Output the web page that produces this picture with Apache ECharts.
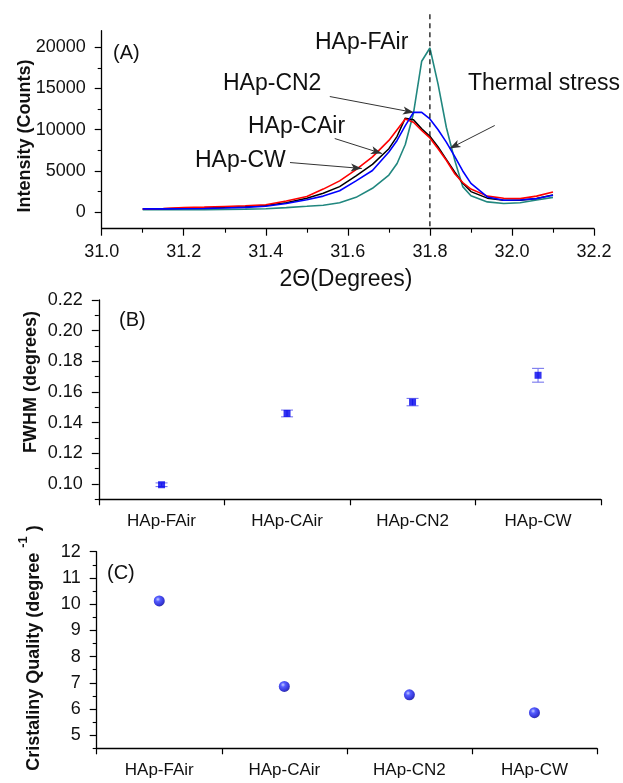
<!DOCTYPE html>
<html><head><meta charset="utf-8">
<script src="https://cdn.jsdelivr.net/npm/echarts@6/dist/echarts.min.js"></script>
<style>html,body{margin:0;padding:0;background:#fff}#c{width:623px;height:783px}</style>
</head><body><div id="c"></div>
<script>
// ---------- Panel A : XRD peak ----------
const twoTheta = [31.10,31.15,31.20,31.25,31.30,31.35,31.40,31.45,31.50,31.54,31.58,31.62,31.66,31.70,31.72,31.74,31.76,31.78,31.80,31.82,31.84,31.86,31.88,31.90,31.94,31.98,32.02,32.06,32.10];
const intensityFAir = [300,300,300,310,330,370,420,560,720,850,1150,1800,2900,4500,5900,8200,12000,18300,19900,15500,10300,6400,3100,2000,1250,1050,1150,1480,1800];
const intensityCW   = [400,450,550,620,700,780,900,1350,1900,2800,3800,5150,6700,8700,10000,11300,10900,9900,9000,7700,6300,4700,3600,2800,1950,1700,1650,1950,2450];
const intensityCAir = [400,420,470,520,580,650,800,1150,1700,2300,3100,4400,5800,7700,9200,11400,11200,10100,9200,7900,6400,4900,3500,2500,1700,1450,1450,1650,2100];
const intensityCN2  = [400,400,420,450,500,580,720,1050,1500,1950,2600,3800,5050,7300,8700,10500,12100,12100,11300,10000,8500,6800,5000,3500,1850,1450,1480,1650,2050];
const thetaTicks = [31.0,31.2,31.4,31.6,31.8,32.0,32.2];
const intensityTicks = [0,5000,10000,15000,20000];
const intensityMinorTicks = [2500,7500,12500,17500];

// ---------- Panels B and C ----------
const samples = ['HAp-FAir','HAp-CAir','HAp-CN2','HAp-CW'];
const fwhm    = [0.0995,0.146,0.1534,0.1709];
const fwhmErr = [0.0012,0.0022,0.0024,0.0045];
const fwhmTicks = [0.10,0.12,0.14,0.16,0.18,0.20,0.22];
const fwhmMinorTicks = [0.09,0.11,0.13,0.15,0.17,0.19,0.21];
const quality = [10.12,6.86,6.54,5.86];
const qualityTicks = [5,6,7,8,9,10,11,12];
const qualityMinorTicks = [4.5,5.5,6.5,7.5,8.5,9.5,10.5,11.5];

const FONT = 'Liberation Sans, Arial, sans-serif';
const chart = echarts.init(document.getElementById('c'), null, {renderer:'canvas'});

function pairs(ys){ return twoTheta.map((x,i)=>[x, ys[i]]); }
const axLine = {show:true, onZero:false, lineStyle:{color:'#000', width:1.3}};

function valueY(gridIndex, min, max, labels, fmt){
  return {type:'value', gridIndex, min, max, position:'left',
    axisLine:axLine, splitLine:{show:false},
    axisTick:{show:true, inside:false, length:7, customValues:labels, lineStyle:{color:'#000', width:1.2}},
    axisLabel:{customValues:labels, fontSize:18, color:'#111', fontFamily:FONT, margin:16, formatter:fmt}};
}
function minorY(gridIndex, min, max, ticks){
  return {type:'value', gridIndex, min, max, position:'left',
    axisLine:{show:false, onZero:false}, splitLine:{show:false},
    axisTick:{show:true, inside:false, length:4, customValues:ticks, lineStyle:{color:'#000', width:1.1}},
    axisLabel:{show:false}};
}
function catX(gridIndex){
  return {type:'category', gridIndex, data:samples, boundaryGap:true,
    axisLine:axLine, splitLine:{show:false},
    axisTick:{show:true, inside:false, length:6, lineStyle:{color:'#000', width:1.2}},
    axisLabel:{fontSize:17, color:'#111', fontFamily:FONT, margin:14}};
}

const arrowLines = [
  [{coord:[31.556,14020]},{coord:[31.761,12085]}],
  [{coord:[31.568,8930]},{coord:[31.683,7115]}],
  [{coord:[31.459,6020]},{coord:[31.634,5300]}],
  [{coord:[31.958,10510]},{coord:[31.848,7720]}]
];

const option = {
  animation:false,
  backgroundColor:'#fff',
  grid:[
    {left:101.7, top:30.7, width:492.3, height:198},
    {left:98.8, top:300, width:502, height:199.3},
    {left:96.7, top:551.7, width:500.3, height:196.6}
  ],
  xAxis:[
    {type:'value', gridIndex:0, min:31.0, max:32.2, interval:0.2,
      axisLine:axLine, splitLine:{show:false},
      axisTick:{show:true, inside:false, length:7, lineStyle:{color:'#000', width:1.2}},
      minorTick:{show:true, splitNumber:2, length:4, lineStyle:{color:'#000', width:1.1}},
      axisLabel:{fontSize:18, color:'#111', fontFamily:FONT, margin:14, formatter:v=>v.toFixed(1)}},
    catX(1), catX(2)
  ],
  yAxis:[
    valueY(0,-2000,22000,intensityTicks, v=>String(v)),
    minorY(0,-2000,22000,intensityMinorTicks),
    valueY(1,0.09,0.22,fwhmTicks, v=>v.toFixed(2)),
    minorY(1,0.09,0.22,fwhmMinorTicks),
    valueY(2,4.5,12,qualityTicks, v=>String(Math.round(v))),
    minorY(2,4.5,12,qualityMinorTicks)
  ],
  series:[
    {type:'line', name:'HAp-FAir', xAxisIndex:0, yAxisIndex:0, data:pairs(intensityFAir), showSymbol:false, symbol:'none',
      lineStyle:{color:'#21877f', width:1.6}, z:2, silent:true,
      markLine:{silent:true, symbol:['none','arrow'], symbolSize:[6,11], label:{show:false},
        lineStyle:{color:'#333', width:1, type:'solid'}, emphasis:{disabled:true}, data:arrowLines}},
    {type:'line', name:'HAp-CAir', xAxisIndex:0, yAxisIndex:0, data:pairs(intensityCAir), showSymbol:false, symbol:'none',
      lineStyle:{color:'#000', width:1.5}, z:3, silent:true},
    {type:'line', name:'HAp-CW', xAxisIndex:0, yAxisIndex:0, data:pairs(intensityCW), showSymbol:false, symbol:'none',
      lineStyle:{color:'#ff0000', width:1.6}, z:4, silent:true},
    {type:'line', name:'HAp-CN2', xAxisIndex:0, yAxisIndex:0, data:pairs(intensityCN2), showSymbol:false, symbol:'none',
      lineStyle:{color:'#0000ff', width:1.6}, z:5, silent:true},
    {type:'custom', xAxisIndex:1, yAxisIndex:2, silent:true, z:3,
      data: samples.map((s,i)=>[i, fwhm[i]-fwhmErr[i], fwhm[i]+fwhmErr[i]]),
      encode:{x:0, y:[1,2]},
      renderItem:(params, api)=>{
        const lo = api.coord([api.value(0), api.value(1)]);
        const hi = api.coord([api.value(0), api.value(2)]);
        const w = 6;
        const st = {stroke:'#7878ee', lineWidth:1.1};
        return {type:'group', children:[
          {type:'line', shape:{x1:lo[0], y1:lo[1], x2:hi[0], y2:hi[1]}, style:st},
          {type:'line', shape:{x1:lo[0]-w, y1:lo[1], x2:lo[0]+w, y2:lo[1]}, style:st},
          {type:'line', shape:{x1:hi[0]-w, y1:hi[1], x2:hi[0]+w, y2:hi[1]}, style:st}
        ]};
      }},
    {type:'scatter', xAxisIndex:1, yAxisIndex:2, data:fwhm, symbol:'rect', symbolSize:7,
      itemStyle:{color:'#0000ee'}, z:4, silent:true},
    {type:'scatter', xAxisIndex:2, yAxisIndex:4, data:quality, symbol:'circle', symbolSize:11, silent:true,
      itemStyle:{color:new echarts.graphic.RadialGradient(0.38,0.35,0.7,[
        {offset:0, color:'#b8c0ff'},{offset:0.3, color:'#2a35ff'},{offset:0.8, color:'#0000c8'},{offset:1, color:'#00007a'}])}}
  ]
};
chart.setOption(option);

// annotations
const pTop = chart.convertToPixel({xAxisIndex:0, yAxisIndex:0}, [31.8, 24000]);
const pBot = chart.convertToPixel({xAxisIndex:0, yAxisIndex:0}, [31.8, -2000]);
function txt(x, y, text, size, opts){
  return {type:'text', x, y, silent:true, z:100,
    style:Object.assign({text, fill:'#111', font:`${size}px ${FONT}`, textAlign:'left', textVerticalAlign:'middle'}, opts||{})};
}
function vtxt(x, y, text){
  const t = txt(x, y, text, 18, {textAlign:'center', font:`bold 18px ${FONT}`});
  t.rotation = Math.PI/2;
  return t;
}
chart.setOption({graphic:{elements:[
  {type:'line', silent:true, z:50, shape:{x1:pTop[0], y1:pTop[1], x2:pBot[0], y2:pBot[1]},
    style:{stroke:'#111', lineWidth:1.3, lineDash:[5,4]}},
  txt(113, 53, '(A)', 20),
  txt(315, 43, 'HAp-FAir', 23),
  txt(223, 84, 'HAp-CN2', 23),
  txt(248, 127, 'HAp-CAir', 23),
  txt(195, 161, 'HAp-CW', 23),
  txt(468, 84, 'Thermal stress', 23),
  txt(346, 280, '2\u0398(Degrees)', 23, {textAlign:'center'}),
  vtxt(25, 136, 'Intensity (Counts)'),
  txt(119, 320, '(B)', 20),
  vtxt(31, 382, 'FWHM (degrees)'),
  txt(107, 573, '(C)', 20),
  {type:'text', x:30, y:648, rotation:Math.PI/2, silent:true, z:100,
    style:{text:'{m|Cristaliny Quality (degree }{s|-1}{m| )}', textAlign:'center', textVerticalAlign:'middle',
      rich:{m:{fontSize:18, fontWeight:'bold', fontFamily:FONT, fill:'#111', lineHeight:26, verticalAlign:'bottom'},
            s:{fontSize:13, fontWeight:'bold', fontFamily:FONT, fill:'#111', lineHeight:26, verticalAlign:'top'}}}}
]}});
</script></body></html>
